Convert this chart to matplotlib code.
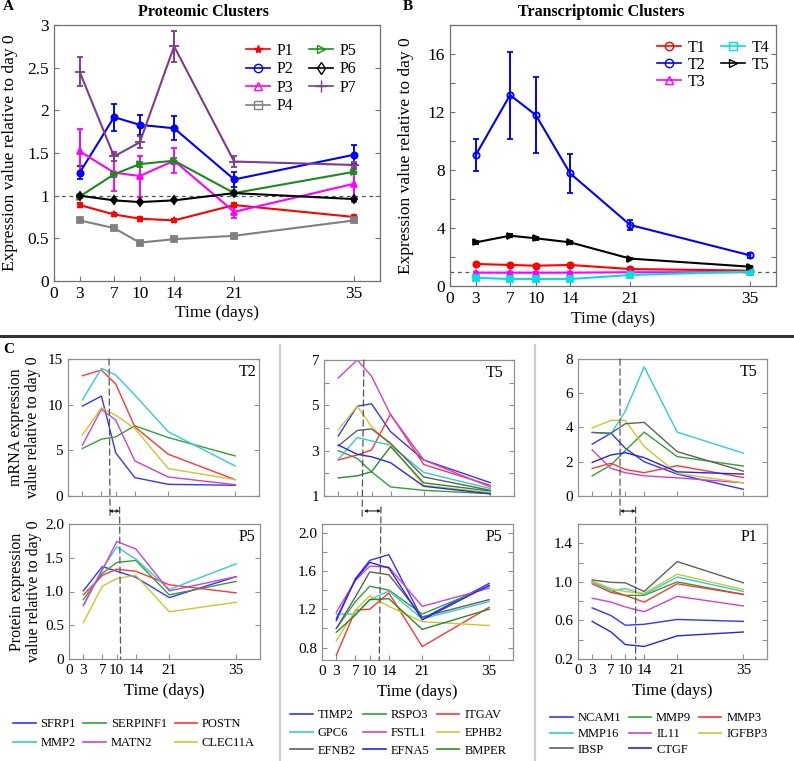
import matplotlib
matplotlib.use("Agg")
import matplotlib.pyplot as plt
from matplotlib.lines import Line2D
from matplotlib.patches import ConnectionPatch

plt.rcParams["font.family"] = ["Liberation Serif", "DejaVu Serif"]

W, H = 794, 761

# ---------------- shared
days = [3, 7, 10, 14, 21, 35]
day_ticks = [0, 3, 7, 10, 14, 21, 35]
day_labels = ["0", "3", "7", "10", "14", "21", "35"]

# ---------------- Panel A : proteomic clusters
prot_names = ["P1", "P2", "P3", "P4", "P5", "P6", "P7"]
P1 = [0.89, 0.78, 0.73, 0.71, 0.89, 0.75]
P2 = [1.27, 1.92, 1.83, 1.79, 1.19, 1.48]
P3 = [1.52, 1.27, 1.23, 1.41, 0.81, 1.14]
P4 = [0.71, 0.62, 0.45, 0.49, 0.53, 0.71]
P5 = [0.99, 1.25, 1.37, 1.41, 1.03, 1.28]
P6 = [1.00, 0.945, 0.925, 0.945, 1.03, 0.96]
P7 = [2.45, 1.46, 1.625, 2.75, 1.40, 1.36]
P1_err = [0.02, 0.02, 0.02, 0.02, 0.02, 0.02]
P2_err = [0.08, 0.16, 0.12, 0.14, 0.09, 0.11]
P3_err = [0.26, 0.22, 0.24, 0.15, 0.07, 0.21]
P4_err = [0.02, 0.02, 0.02, 0.02, 0.02, 0.02]
P5_err = [0.02, 0.03, 0.03, 0.03, 0.02, 0.03]
P6_err = [0.01, 0.01, 0.01, 0.01, 0.01, 0.01]
P7_err = [0.17, 0.05, 0.07, 0.18, 0.06, 0.03]
A_yticks = [0, 0.5, 1, 1.5, 2, 2.5, 3]
A_yticklabels = ["0", "0.5", "1", "1.5", "2", "2.5", "3"]

# ---------------- Panel B : transcriptomic clusters
trans_names = ["T1", "T2", "T3", "T4", "T5"]
T1 = [1.52, 1.45, 1.40, 1.45, 1.17, 1.06]
T2 = [9.03, 13.17, 11.79, 7.77, 4.21, 2.11]
T3 = [0.92, 0.92, 0.92, 0.92, 0.95, 0.95]
T4 = [0.57, 0.48, 0.48, 0.48, 0.76, 0.99]
T5 = [3.01, 3.47, 3.29, 3.01, 1.89, 1.33]
T1_err = [0.05, 0.05, 0.05, 0.05, 0.05, 0.05]
T2_err = [1.1, 3.0, 2.6, 1.35, 0.35, 0.15]
T3_err = [0.03, 0.03, 0.03, 0.03, 0.03, 0.03]
T4_err = [0.05, 0.05, 0.05, 0.05, 0.05, 0.05]
T5_err = [0.10, 0.12, 0.10, 0.10, 0.05, 0.05]
B_yticks = [0, 2, 4, 6, 8, 10, 12, 14, 16, 18]
B_yticklabels = ["0", "", "4", "", "8", "", "12", "", "16", ""]

# ---------------- Panel C, column 1 (T2 mRNA / P5 protein)
c1_genes = ["SFRP1", "SERPINF1", "POSTN", "MMP2", "MATN2", "CLEC11A"]
SFRP1_mrna = [9.84, 10.94, 4.72, 2.01, 1.28, 1.17]
SERPINF1_mrna = [5.20, 6.22, 6.48, 7.68, 6.40, 4.39]
POSTN_mrna = [13.17, 13.79, 12.26, 7.57, 4.57, 1.79]
MMP2_mrna = [10.50, 13.98, 13.25, 11.05, 7.03, 3.29]
MATN2_mrna = [5.56, 9.51, 8.30, 3.84, 2.08, 1.24]
CLEC11A_mrna = [6.66, 9.66, 8.85, 7.39, 3.00, 1.79]
SFRP1_prot = [1.01, 1.37, 1.30, 1.21, 0.91, 1.22]
SERPINF1_prot = [0.88, 1.27, 1.43, 1.46, 0.95, 1.15]
POSTN_prot = [0.95, 1.24, 1.33, 1.30, 1.10, 0.98]
MMP2_prot = [0.80, 1.34, 1.66, 1.48, 1.03, 1.41]
MATN2_prot = [0.79, 1.32, 1.74, 1.63, 1.01, 1.22]
CLEC11A_prot = [0.54, 1.08, 1.19, 1.24, 0.70, 0.84]

# ---------------- Panel C, column 2 (T5 mRNA / P5 protein)
c2_genes = ["TIMP2", "RSPO3", "ITGAV", "GPC6", "FSTL1", "EPHB2", "EFNB2", "EFNA5", "BMPER"]
TIMP2_mrna = [3.65, 4.96, 5.07, 3.84, 2.59, 1.59]
RSPO3_mrna = [3.00, 2.66, 2.07, 1.40, 1.25, 1.10]
ITGAV_mrna = [2.59, 2.81, 3.03, 4.61, 2.39, 1.47]
GPC6_mrna = [2.61, 3.58, 3.43, 3.25, 2.04, 1.33]
FSTL1_mrna = [6.21, 7.00, 6.29, 4.59, 2.59, 1.40]
EPHB2_mrna = [3.92, 4.96, 4.07, 3.25, 1.47, 1.15]
EFNB2_mrna = [3.21, 3.89, 3.96, 3.33, 1.84, 1.25]
EFNA5_mrna = [3.25, 2.84, 2.73, 2.47, 1.43, 1.10]
BMPER_mrna = [1.80, 1.89, 2.07, 3.18, 1.58, 1.22]
TIMP2_prot = [1.08, 1.52, 1.71, 1.77, 1.10, 1.47]
RSPO3_prot = [1.00, 1.28, 1.44, 1.40, 1.15, 1.44]
ITGAV_prot = [0.72, 1.19, 1.20, 1.37, 0.81, 1.22]
GPC6_prot = [1.15, 1.15, 1.30, 1.39, 1.10, 1.28]
FSTL1_prot = [1.17, 1.50, 1.65, 1.64, 1.23, 1.42]
EPHB2_prot = [0.87, 1.19, 1.34, 1.23, 1.07, 1.03]
EFNB2_prot = [1.00, 1.33, 1.59, 1.56, 1.12, 1.30]
EFNA5_prot = [1.10, 1.51, 1.69, 1.63, 1.09, 1.45]
BMPER_prot = [0.96, 1.14, 1.30, 1.31, 0.99, 1.20]

# ---------------- Panel C, column 3 (T5 mRNA / P1 protein)
c3_genes = ["NCAM1", "MMP9", "MMP3", "MMP16", "IL11", "IGFBP3", "IBSP", "CTGF"]
NCAM1_mrna = [3.03, 3.67, 2.79, 2.00, 1.28, 0.39]
MMP9_mrna = [1.18, 1.81, 2.65, 3.73, 2.30, 1.75]
MMP3_mrna = [1.61, 1.91, 1.55, 1.36, 1.77, 1.08]
MMP16_mrna = [3.71, 3.63, 4.95, 7.54, 3.73, 2.50]
IL11_mrna = [2.69, 1.61, 1.36, 1.18, 1.06, 0.77]
IGFBP3_mrna = [3.97, 4.42, 4.42, 2.89, 1.32, 0.77]
IBSP_mrna = [3.71, 3.67, 4.22, 4.30, 2.59, 1.45]
CTGF_mrna = [1.96, 2.40, 2.53, 2.24, 1.41, 1.28]
NCAM1_prot = [0.73, 0.65, 0.55, 0.56, 0.61, 0.59]
MMP9_prot = [1.00, 0.91, 0.86, 0.86, 1.00, 0.87]
MMP3_prot = [0.98, 0.89, 0.86, 0.79, 0.98, 0.87]
MMP16_prot = [1.00, 0.91, 0.93, 0.87, 1.05, 0.90]
IL11_prot = [0.83, 0.79, 0.74, 0.69, 0.85, 0.75]
IGFBP3_prot = [1.01, 0.93, 0.90, 0.88, 1.08, 0.92]
IBSP_prot = [1.02, 0.995, 0.99, 0.90, 1.21, 0.99]
CTGF_prot = [0.59, 0.48, 0.35, 0.33, 0.44, 0.48]

# time of mRNA peak / protein peak (dashed markers) for each column
mrna_peak_day = [8.6, 8.4, 8.9]
prot_peak_day = [10.8, 12.0, 12.2]

# ---------------- styles
BLUE, GREEN, RED = "#3535ff", "#33a033", "#ff3535"
CYAN, MAG, YEL, GRAY = "#33cccc", "#d040d0", "#c8c830", "#606060"
BLUE2, GREEN2 = "#2525e8", "#2a8a2a"

prot_colors = ["#ff0000", "#0000ff", "#ff00ff", "#808080", "#1a8c1a", "#000000", "#7d3c8c"]
prot_markers = ["*", "o", "^", "s", ">", "d", "+"]
trans_colors = ["#ff0000", "#0000ff", "#ff00ff", "#00e0e0", "#000000"]
trans_markers = ["o", "o", "^", "s", ">"]

fig = plt.figure(figsize=(W / 100, H / 100), dpi=100)


def add_ax(l, t, r, b):
    return fig.add_axes([l / W, 1 - b / H, (r - l) / W, (b - t) / H])


def style_ax(ax, spine_color, tick_size):
    for s in ax.spines.values():
        s.set_color(spine_color)
        s.set_linewidth(0.9)
    ax.tick_params(direction="in", length=3.5, width=0.8, color=spine_color,
                   labelsize=tick_size, right=True, top=False, pad=3.5)


def cluster_panel(ax, names, vals, errs, colors, markers, open_data, ylim, yt, ytl):
    style_ax(ax, "#707070", 12.5)
    ax.axhline(1, color="#555555", lw=0.9, ls=(0, (3, 3)), zorder=1)
    for v, e, c, m, op in zip(vals, errs, colors, markers, open_data):
        ax.errorbar(days, v, yerr=e, color=c, lw=1.5, marker=m, ms=4.5 if m != "+" else 7,
                    mfc="none" if op else c, mec=c, mew=1.3, capsize=2.5,
                    elinewidth=1.4, capthick=1.4, zorder=3)
    ax.set_xlim(0, 38)
    ax.set_ylim(*ylim)
    ax.set_xticks(day_ticks)
    ax.set_xticklabels(day_labels)
    ax.set_yticks(yt)
    ax.set_yticklabels(ytl)
    ax.set_xlabel("Time (days)", fontsize=12.5)
    ax.set_ylabel("Expression value relative to day 0", fontsize=12.5)
    ax.xaxis.set_label_coords(0.5, -0.095)
    ax.yaxis.set_label_coords(-0.11, 0.5)
    handles = [Line2D([], [], color=c, marker=m, mfc="none" if m != "*" else c, mec=c,
                      ms=6 if m != "+" else 8, lw=1.2) for c, m in zip(colors, markers)]
    return handles


# ---- Panel A
axA = add_ax(54, 25, 380, 281)
hA = cluster_panel(axA, prot_names, [P1, P2, P3, P4, P5, P6, P7],
                   [P1_err, P2_err, P3_err, P4_err, P5_err, P6_err, P7_err],
                   prot_colors, prot_markers, [False] * 7, (0, 3), A_yticks, A_yticklabels)
axA.legend(hA, prot_names, ncol=2, loc="upper left", bbox_to_anchor=(246 / W, 1 - 43 / H),
           bbox_transform=fig.transFigure, frameon=False, fontsize=11.5, handlelength=1.5,
           handletextpad=0.4, columnspacing=1.0, labelspacing=0.15, borderpad=0, borderaxespad=0)
fig.text(203 / W, 1 - 12 / H, "Proteomic Clusters", fontsize=11.5, fontweight="bold",
         ha="center", va="center")
fig.text(8 / W, 1 - 7 / H, "A", fontsize=11, fontweight="bold", ha="center", va="center")

# ---- Panel B
axB = add_ax(450, 25, 776, 286)
hB = cluster_panel(axB, trans_names, [T1, T2, T3, T4, T5],
                   [T1_err, T2_err, T3_err, T4_err, T5_err],
                   trans_colors, trans_markers, [False, True, False, False, False],
                   (0, 18), B_yticks, B_yticklabels)
axB.legend(hB, trans_names, ncol=2, loc="upper left", bbox_to_anchor=(657 / W, 1 - 40 / H),
           bbox_transform=fig.transFigure, frameon=False, fontsize=11.5, handlelength=1.5,
           handletextpad=0.4, columnspacing=1.0, labelspacing=0.05, borderpad=0, borderaxespad=0)
fig.text(601 / W, 1 - 12 / H, "Transcriptomic Clusters", fontsize=11.5, fontweight="bold",
         ha="center", va="center")
fig.text(408 / W, 1 - 6 / H, "B", fontsize=11, fontweight="bold", ha="center", va="center")

# ---- separators
fig.add_artist(Line2D([0, 1], [1 - 336 / H] * 2, transform=fig.transFigure, color="#333333", lw=2.2))
for xs in (280, 535):
    fig.add_artist(Line2D([xs / W] * 2, [1 - 345 / H, 0], transform=fig.transFigure,
                          color="#cccccc", lw=1.6))
fig.text(9 / W, 1 - 350 / H, "C", fontsize=11, fontweight="bold", ha="center", va="center")


def c_panel(ax, series, colors, ylim, yt, ytl, tag, tagx, bottom):
    style_ax(ax, "#909090", 11)
    for v, c in zip(series, colors):
        ax.plot(days, v, color=c, lw=1.0)
    ax.set_xlim(0, 40)
    ax.set_ylim(*ylim)
    ax.set_yticks(yt)
    ax.set_yticklabels(ytl)
    if bottom:
        ax.set_xticks(day_ticks)
        ax.set_xticklabels(day_labels)
        ax.set_xlabel("Time (days)", fontsize=12)
        ax.xaxis.set_label_coords(0.5, -0.18)
    else:
        ax.set_xticks(days)
        ax.set_xticklabels([])
    ax.text(tagx, 0.905, tag, transform=ax.transAxes, ha="right", va="center", fontsize=11.5)


def lag_marks(axT, axB, d1, d2):
    kw = dict(color="#555555", lw=0.9, ls=(0, (5, 3)))
    fig.add_artist(ConnectionPatch(xyA=(d1, 1.0), coordsA=axT.get_xaxis_transform(),
                                   xyB=(d1, 1.05), coordsB=axB.get_xaxis_transform(), **kw))
    fig.add_artist(ConnectionPatch(xyA=(d2, -0.08), coordsA=axT.get_xaxis_transform(),
                                   xyB=(d2, 0.0), coordsB=axB.get_xaxis_transform(), **kw))
    fig.add_artist(ConnectionPatch(xyA=(d1, -0.11), coordsA=axT.get_xaxis_transform(),
                                   xyB=(d2, -0.11), coordsB=axT.get_xaxis_transform(),
                                   arrowstyle="<|-|>", mutation_scale=4, color="#222222", lw=0.8))


def c_legend(handles, labels, x, y, spacing):
    fig.legend(handles, labels, ncol=3, loc="upper left", bbox_to_anchor=(x / W, 1 - y / H),
               bbox_transform=fig.transFigure, frameon=False, fontsize=9, handlelength=1.8,
               handletextpad=0.4, columnspacing=0.6, labelspacing=spacing, borderpad=0,
               borderaxespad=0)


# ---- column 1
c1_colors = [BLUE, GREEN, RED, CYAN, MAG, YEL]
ax1t = add_ax(68, 359, 259, 496)
c_panel(ax1t, [SFRP1_mrna, SERPINF1_mrna, POSTN_mrna, MMP2_mrna, MATN2_mrna, CLEC11A_mrna],
        c1_colors, (0, 15), [0, 5, 10, 15], ["0", "5", "10", "15"], "T2", 0.985, False)
ax1t.set_ylabel("mRNA expression\nvalue relative to day 0", fontsize=11.5, linespacing=1.1)
ax1t.yaxis.set_label_coords(-0.14, 0.5)
ax1b = add_ax(69, 524, 260, 659)
c_panel(ax1b, [SFRP1_prot, SERPINF1_prot, POSTN_prot, MMP2_prot, MATN2_prot, CLEC11A_prot],
        c1_colors, (0, 2.0), [0, 0.5, 1.0, 1.5, 2.0], ["0", "0.5", "1.0", "1.5", "2.0"],
        "P5", 0.975, True)
ax1b.set_ylabel("Protein expression\nvalue relative to day 0", fontsize=11.5, linespacing=1.1)
ax1b.yaxis.set_label_coords(-0.14, 0.5)
lag_marks(ax1t, ax1b, mrna_peak_day[0], prot_peak_day[0])
h1 = [Line2D([], [], color=c, lw=1.2) for c in c1_colors]
order1 = [0, 3, 1, 4, 2, 5]
c_legend([h1[i] for i in order1], [c1_genes[i] for i in order1], 13, 718, 0.55)

# ---- column 2
c2_colors = [BLUE, GREEN, RED, CYAN, MAG, YEL, GRAY, BLUE2, GREEN2]
ax2t = add_ax(324, 360, 514, 496)
c_panel(ax2t, [TIMP2_mrna, RSPO3_mrna, ITGAV_mrna, GPC6_mrna, FSTL1_mrna, EPHB2_mrna,
               EFNB2_mrna, EFNA5_mrna, BMPER_mrna],
        c2_colors, (1, 7), [1, 2, 3, 4, 5, 6, 7], ["1", "", "3", "", "5", "", "7"],
        "T5", 0.947, False)
ax2b = add_ax(322, 524, 513, 660)
c_panel(ax2b, [TIMP2_prot, RSPO3_prot, ITGAV_prot, GPC6_prot, FSTL1_prot, EPHB2_prot,
               EFNB2_prot, EFNA5_prot, BMPER_prot],
        c2_colors, (0.67, 2.09), [0.8, 1.0, 1.2, 1.4, 1.6, 1.8, 2.0],
        ["0.8", "", "1.2", "", "1.6", "", "2.0"], "P5", 0.942, True)
lag_marks(ax2t, ax2b, mrna_peak_day[1], prot_peak_day[1])
h2 = [Line2D([], [], color=c, lw=1.2) for c in c2_colors]
order2 = [0, 3, 6, 1, 4, 7, 2, 5, 8]
c_legend([h2[i] for i in order2], [c2_genes[i] for i in order2], 290, 709, 0.47)

# ---- column 3
c3_colors = [BLUE, GREEN, RED, CYAN, MAG, YEL, GRAY, BLUE2]
ax3t = add_ax(578, 359, 767, 496)
c_panel(ax3t, [NCAM1_mrna, MMP9_mrna, MMP3_mrna, MMP16_mrna, IL11_mrna, IGFBP3_mrna,
               IBSP_mrna, CTGF_mrna],
        c3_colors, (0, 8), [0, 2, 4, 6, 8], ["0", "2", "4", "6", "8"], "T5", 0.952, False)
ax3b = add_ax(578, 524, 767, 659)
c_panel(ax3b, [NCAM1_prot, MMP9_prot, MMP3_prot, MMP16_prot, IL11_prot, IGFBP3_prot,
               IBSP_prot, CTGF_prot],
        c3_colors, (0.2, 1.6), [0.2, 0.4, 0.6, 0.8, 1.0, 1.2, 1.4, 1.6],
        ["0.2", "", "0.6", "", "1.0", "", "1.4", ""], "P1", 0.947, True)
lag_marks(ax3t, ax3b, mrna_peak_day[2], prot_peak_day[2])
h3 = [Line2D([], [], color=c, lw=1.2) for c in c3_colors]
order3 = [0, 3, 6, 1, 4, 7, 2, 5]
c_legend([h3[i] for i in order3], [c3_genes[i] for i in order3], 550, 712, 0.31)

fig.savefig("out.png", dpi=100)
